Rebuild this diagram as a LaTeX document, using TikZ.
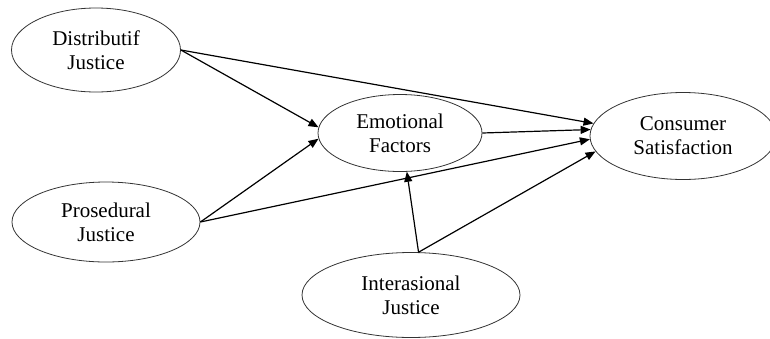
\documentclass[tikz,border=0pt]{standalone}
\usepackage{fontspec}
\setmainfont{Liberation Serif}
\usetikzlibrary{arrows.meta, shapes.geometric, positioning}

\begin{document}
\begin{tikzpicture}[x=1pt, y=-1pt]
				
				\tikzset{construct/.style={
						ellipse,
						draw=black!80,
						line width=0.8pt,
						align=center,
						inner sep=0pt,
						font=\fontsize{21}{24}\selectfont
					},
					link/.style={
						-{Triangle[length=10pt,width=8pt]},
						line width=1.2pt
					}
				}
				
				\useasboundingbox (0,0) rectangle (770,338);
				
				\node[construct, minimum width=169pt, minimum height=84pt] (distributif) at (96,50) {Distributif\\Justice};
				\node[construct, minimum width=188pt, minimum height=80pt] (prosedural) at (106,222) {Prosedural\\Justice};
				\node[construct, minimum width=164pt, minimum height=77pt] (emotional) at (400,133) {Emotional\\Factors};
				\node[construct, minimum width=186pt, minimum height=87pt] (consumer) at (683,136) {Consumer\\Satisfaction};
				\node[construct, minimum width=218pt, minimum height=85pt] (interasional) at (411,295) {Interasional\\Justice};
				
				\draw[link] (distributif.east) -- (emotional.176);
				\draw[link] (distributif.east) -- (consumer.172);
				\draw[link] (prosedural.east) -- (emotional.184);
				\draw[link] (prosedural.east) -- (consumer.182);
				\draw[link] (emotional.east) -- (consumer.176);
				\draw[link] (interasional.80) -- (emotional.280);
				\draw[link] (interasional.80) -- (consumer.190);
				
\end{tikzpicture}
\end{document}
